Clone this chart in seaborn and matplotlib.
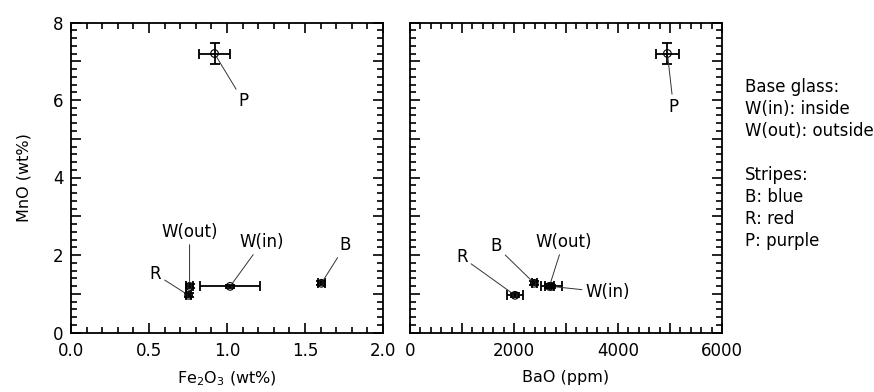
import matplotlib
matplotlib.use("Agg")
import matplotlib.pyplot as plt
from matplotlib.ticker import MultipleLocator, FuncFormatter
import seaborn as sns
import pandas as pd

# ---- data ----
labels = ["P", "W(in)", "W(out)", "R", "B"]
mno = [7.20, 1.19, 1.19, 0.96, 1.27]
mno_err = [0.28, 0.03, 0.05, 0.05, 0.05]
fe2o3 = [0.92, 1.02, 0.76, 0.754, 1.605]
fe2o3_err = [0.10, 0.19, 0.02, 0.015, 0.02]
bao = [4950, 2720, 2680, 2020, 2390]
bao_err = [220, 200, 80, 160, 50]

legend_lines = ["Base glass:", "W(in): inside", "W(out): outside", "",
                "Stripes:", "B: blue", "R: red", "P: purple"]

# label offsets (pixels) for each panel
off_left = {"P": (29, -48), "W(in)": (32, 44), "W(out)": (0, 54), "R": (-33, 21), "B": (24, 38)}
off_right = {"P": (6, -53), "W(in)": (56, -6), "W(out)": (14, 44), "R": (-53, 38), "B": (-38, 37)}

df = pd.DataFrame({"label": labels, "MnO": mno, "MnO_err": mno_err,
                   "Fe2O3": fe2o3, "Fe2O3_err": fe2o3_err, "BaO": bao, "BaO_err": bao_err})

sns.set_style("ticks")
plt.rcParams["font.family"] = ["DejaVu Sans"]
plt.rcParams["font.size"] = 12
for k in ["text.color", "axes.labelcolor", "xtick.color", "ytick.color",
          "axes.edgecolor", "xtick.labelcolor", "ytick.labelcolor"]:
    plt.rcParams[k] = "black"

fig = plt.figure(figsize=(8.74, 3.92), dpi=100)
ax1 = fig.add_axes([71 / 874, 1 - 332.5 / 392, 312 / 874, 310 / 392])
ax2 = fig.add_axes([410 / 874, 1 - 332.5 / 392, 312 / 874, 310 / 392])


def draw(ax, xcol, xerrcol, offsets):
    ax.errorbar(df[xcol], df["MnO"], xerr=df[xerrcol], yerr=df["MnO_err"], fmt="none",
                ecolor="black", elinewidth=1.3, capsize=3.5, capthick=1.3, zorder=2)
    sns.scatterplot(data=df, x=xcol, y="MnO", ax=ax, marker="o", s=30,
                    facecolor="none", edgecolor="black", linewidth=0.8, zorder=3)
    for _, r in df.iterrows():
        ax.annotate(r["label"], xy=(r[xcol], r["MnO"]), xytext=offsets[r["label"]],
                    textcoords="offset pixels", ha="center", va="center", fontsize=12,
                    color="black",
                    arrowprops=dict(arrowstyle="-", color="#333333", lw=0.7,
                                    shrinkA=0, shrinkB=3))


draw(ax1, "Fe2O3", "Fe2O3_err", off_left)
draw(ax2, "BaO", "BaO_err", off_right)

for ax in (ax1, ax2):
    ax.set_ylim(0, 8)
    ax.yaxis.set_major_locator(MultipleLocator(1))
    ax.yaxis.set_minor_locator(MultipleLocator(0.2))
    ax.tick_params(which="both", direction="in", top=True, right=True, width=1.2,
                   color="black", labelcolor="black")
    ax.tick_params(which="major", length=7)
    ax.tick_params(which="minor", length=4)
    ax.tick_params(axis="x", pad=7, labelsize=12)
    ax.tick_params(axis="y", pad=5.5, labelsize=12)
    for s in ax.spines.values():
        s.set_linewidth(1.3)
        s.set_color("black")

ax1.set_xlim(0, 2.0)
ax1.xaxis.set_major_locator(MultipleLocator(0.5))
ax1.xaxis.set_minor_locator(MultipleLocator(0.1))
ax1.xaxis.set_major_formatter(FuncFormatter(lambda v, p: f"{v:.1f}"))
ax1.yaxis.set_major_formatter(FuncFormatter(lambda v, p: f"{v:.0f}" if round(v) % 2 == 0 else ""))
ax1.set_xlabel("Fe$_2$O$_3$ (wt%)", fontsize=11.5, color="black")
ax1.set_ylabel("MnO (wt%)", fontsize=11.5, color="black")
ax1.xaxis.set_label_coords(0.5, -0.12)
ax1.yaxis.set_label_coords(-0.125, 0.5)

ax2.set_xlim(0, 6000)
ax2.xaxis.set_major_locator(MultipleLocator(1000))
ax2.xaxis.set_minor_locator(MultipleLocator(200))
ax2.xaxis.set_major_formatter(FuncFormatter(lambda v, p: f"{v:.0f}" if round(v / 1000) % 2 == 0 else ""))
ax2.yaxis.set_major_formatter(FuncFormatter(lambda v, p: ""))
ax2.set_xlabel("BaO (ppm)", fontsize=11.5, color="black")
ax2.set_ylabel("")
ax2.xaxis.set_label_coords(0.5, -0.12)

for i, line in enumerate(legend_lines):
    fig.text(745 / 874, 1 - (87 + 22 * i) / 392, line, ha="left", va="center",
             fontsize=12, color="black")

fig.savefig("out.png", dpi=100)
